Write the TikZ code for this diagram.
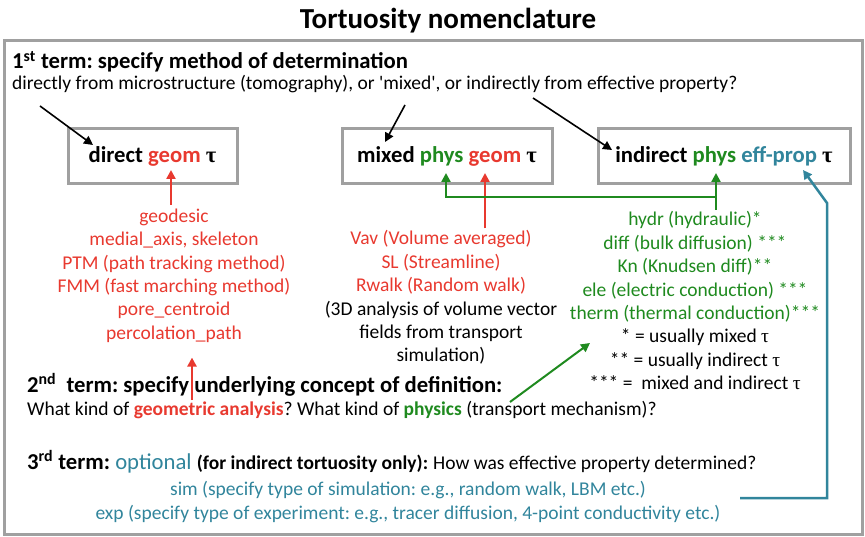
\documentclass[tikz,border=0pt]{standalone}
\usepackage{fontspec}
\setmainfont{Carlito}
\newfontfamily\taufont{Liberation Serif}
\usetikzlibrary{calc,arrows.meta}
\frenchspacing

\definecolor{geomred}{HTML}{E8392F}
\definecolor{physgreen}{HTML}{1F8A1F}
\definecolor{propblue}{HTML}{31859C}
\definecolor{framegray}{HTML}{A0A0A0}

\newcommand{\taubold}{{\taufont\bfseries τ}}
\newcommand{\tauplain}{{\taufont τ}}

\tikzset{
  title/.style={anchor=base, inner sep=0pt, font=\fontsize{29}{32}\selectfont\bfseries},
  heading/.style={anchor=base west, inner sep=0pt, font=\fontsize{22.7}{26}\selectfont\bfseries},
  plain/.style={anchor=base west, inner sep=0pt, font=\fontsize{19.5}{23.4}\selectfont},
  termbox/.style={draw=framegray, line width=3pt, minimum height=55pt, inner sep=2pt,
    font=\fontsize{22.7}{26}\selectfont\bfseries},
  listtext/.style={align=center, anchor=north, inner sep=0pt, font=\fontsize{19.5}{23.4}\selectfont},
  pointer/.style={->, line width=1.6pt},
  geomarrow/.style={->, geomred, line width=2.5pt},
  physarrow/.style={->, physgreen, line width=2.5pt},
  proparrow/.style={->, propblue, line width=2.5pt},
}

\begin{document}
\begin{tikzpicture}[x=1pt, y=-1pt, >={Triangle[length=9pt,width=9pt]}]
    \useasboundingbox (0,0) rectangle (865,537);

    \node[title](title) at (448,29) {Tortuosity nomenclature};
    \draw[framegray, line width=3pt] (4,41) rectangle (862,534);

    % 1st term
    \node[heading](first) at (12,69) {1\textsuperscript{st} term: specify method of determination};
    \node[plain](firstq) at (12,90) {directly from microstructure (tomography), or \textquotesingle mixed\textquotesingle, or indirectly from effective property?};

    \node[termbox, minimum width=169pt](direct) at (152.5,156.5) {direct \textcolor{geomred}{geom} \taubold};
    \node[termbox, minimum width=210pt](mixed) at (447,156.5) {mixed \textcolor{physgreen}{phys} \textcolor{geomred}{geom} \taubold};
    \node[termbox, minimum width=252pt](indirect) at (724,156) {indirect \textcolor{physgreen}{phys} \textcolor{propblue}{eff-prop} \taubold};

    \coordinate (dirfrom) at (40,106);
    \coordinate (dirto) at (93,145);
    \coordinate (mixfrom) at (405,105);
    \coordinate (mixto) at (385,142);
    \coordinate (indfrom) at (533,98);
    \coordinate (indto) at (612,150);
    \draw[pointer] (dirfrom) -- (dirto);
    \draw[pointer] (mixfrom) -- (mixto);
    \draw[pointer] (indfrom) -- (indto);

    % 2nd term: lists
    \node[listtext, text=geomred](geomlist) at (174,208.5) {geodesic\\medial\_axis, skeleton\\PTM (path tracking method)\\FMM (fast marching method)\\pore\_centroid\\percolation\_path};
    \node[listtext, text=geomred](mixedlist) at (441,230.5) {Vav (Volume averaged)\\SL (Streamline)\\Rwalk (Random walk)\\\textcolor{black}{(3D analysis of volume vector}\\\textcolor{black}{fields from transport}\\\textcolor{black}{simulation)}};
    \node[listtext, text=physgreen](physlist) at (695,211.5) {hydr (hydraulic)*\\diff (bulk diffusion) ***\\Kn (Knudsen diff)**\\ele (electric conduction) ***\\therm (thermal conduction)***\\\textcolor{black}{* = usually mixed \tauplain}\\\textcolor{black}{** = usually indirect \tauplain}\\\textcolor{black}{*** =~ mixed and indirect \tauplain}};

    \coordinate (geomtipA) at (171,170);
    \coordinate (geomtipB) at (485,173);
    \coordinate (conceptfrom) at (192,400);
    \draw[geomarrow] ($(geomlist.north -| geomtipA)+(0,-3.5)$) -- (geomtipA);
    \draw[geomarrow] (conceptfrom) -- ($(geomlist.south -| conceptfrom)+(0,15)$);
    \draw[geomarrow] ($(mixedlist.north -| geomtipB)+(0,-2)$) -- (geomtipB);

    \coordinate (phystipA) at (446,173);
    \coordinate (phystipB) at (716,173);
    \coordinate (physjoin) at (716,197);
    \draw[physarrow] ($(physlist.north -| phystipB)+(0,-1.5)$) -- (phystipB);
    \draw[physarrow] (physjoin) -| (phystipA);

    \node[heading](second) at (27,392) {2\textsuperscript{nd}~ term: specify underlying concept of definition:};
    \node[plain](secondq) at (27,415) {What kind of \textcolor{geomred}{\bfseries geometric analysis}? What kind of \textcolor{physgreen}{\bfseries physics} (transport mechanism)?};

    \coordinate (physfrom) at (510,402);
    \coordinate (physto) at (590,343);
    \draw[physarrow, line width=2pt] (physfrom) -- (physto);

    % 3rd term
    \node[heading](third) at (27,469) {3\textsuperscript{rd} term: \textcolor{propblue}{\mdseries optional} {\fontsize{19.5}{23.4}\selectfont (for indirect tortuosity only):} \mdseries\fontsize{19.5}{23.4}\selectfont How was effective property determined?};
    \node[plain, anchor=base, text=propblue](simline) at (408,495) {sim (specify type of simulation: e.g., random walk, LBM etc.)};
    \node[plain, anchor=base, text=propblue](expline) at (408,519) {exp (specify type of experiment: e.g., tracer diffusion, 4-point conductivity etc.)};

    \coordinate (propfrom) at (740,498);
    \coordinate (propbend) at (827,203);
    \coordinate (propto) at (803,170);
    \draw[proparrow] (propfrom) -| (propbend) -- (propto);
\end{tikzpicture}
\end{document}
